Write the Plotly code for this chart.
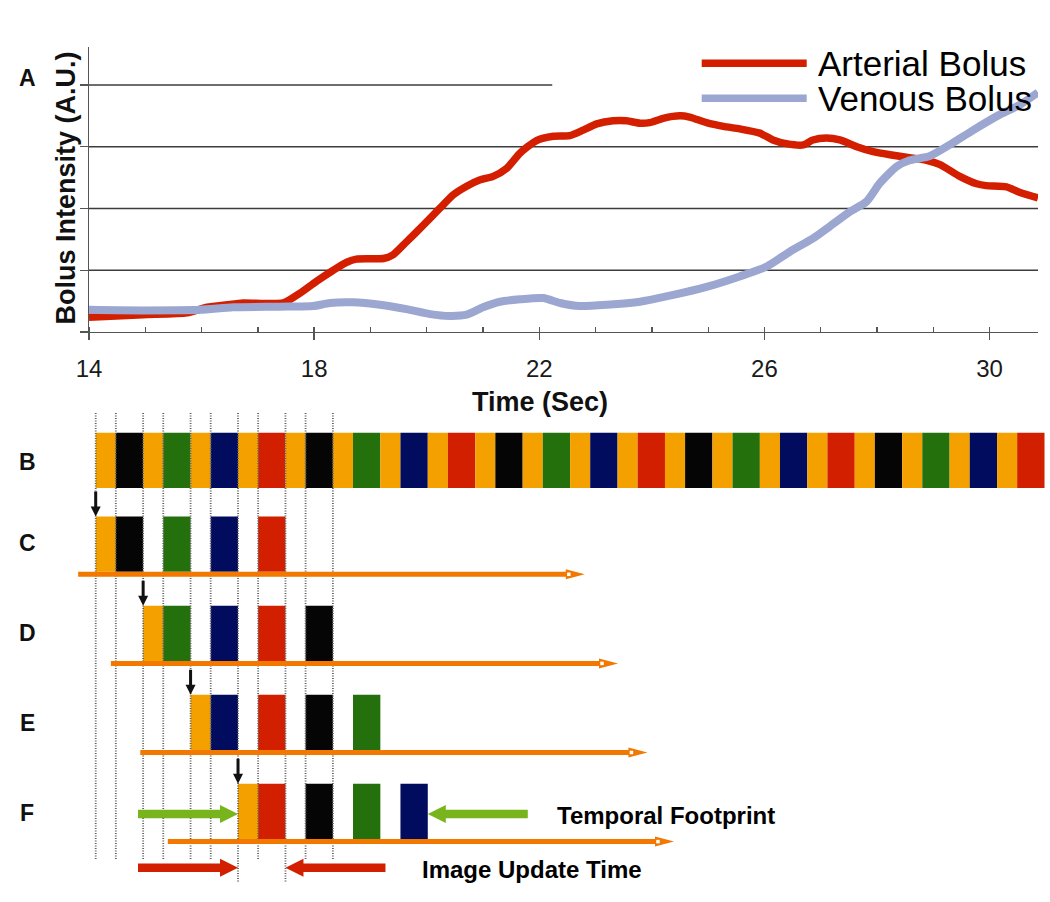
import plotly.graph_objects as go

# ------------------------------------------------------------------
# DATA
# ------------------------------------------------------------------
# Panel A : bolus curves (time in s, intensity in A.U.)
art_t = [14.00, 14.96, 15.74, 16.10, 16.45, 16.74, 17.45, 17.75, 18.04, 18.34,
         18.58, 18.75, 19.23, 19.40, 19.64, 19.94, 20.23, 20.47, 20.71, 20.94,
         21.18, 21.42, 21.66, 21.95, 22.25, 22.54, 22.78, 23.02, 23.31, 23.55,
         23.79, 23.96, 24.20, 24.50, 24.67, 24.97, 25.27, 25.56, 25.92, 26.15,
         26.39, 26.69, 26.86, 27.10, 27.34, 27.64, 27.93, 28.23, 28.52, 28.88,
         29.12, 29.47, 29.77, 29.94, 30.30, 30.54, 30.86]
art_v = [0.24, 0.28, 0.31, 0.40, 0.44, 0.47, 0.47, 0.63, 0.82, 1.00,
         1.13, 1.18, 1.19, 1.25, 1.46, 1.73, 2.00, 2.22, 2.36, 2.46,
         2.52, 2.65, 2.90, 3.10, 3.17, 3.18, 3.27, 3.37, 3.42, 3.42,
         3.38, 3.39, 3.46, 3.50, 3.48, 3.39, 3.33, 3.29, 3.22, 3.11,
         3.05, 3.03, 3.11, 3.14, 3.11, 3.00, 2.92, 2.87, 2.83, 2.78,
         2.71, 2.52, 2.40, 2.37, 2.35, 2.26, 2.17]
ven_t = [14.00, 14.96, 15.97, 16.56, 17.39, 17.98, 18.28, 18.69, 19.17, 19.64,
         20.06, 20.41, 20.71, 21.00, 21.30, 21.66, 22.07, 22.37, 22.72, 23.20,
         23.79, 24.38, 24.97, 25.56, 26.04, 26.45, 26.87, 27.16, 27.52, 27.81,
         28.05, 28.35, 28.58, 28.94, 29.29, 29.71, 30.18, 30.54, 30.86]
ven_v = [0.36, 0.35, 0.36, 0.40, 0.41, 0.42, 0.47, 0.48, 0.44, 0.37,
         0.29, 0.26, 0.28, 0.40, 0.49, 0.53, 0.55, 0.47, 0.42, 0.44,
         0.49, 0.60, 0.73, 0.90, 1.06, 1.30, 1.52, 1.71, 1.95, 2.11,
         2.41, 2.68, 2.78, 2.85, 3.03, 3.27, 3.52, 3.68, 3.88]
x_tick_vals = [14, 18, 22, 26, 30]
y_tick_vals = [0, 1, 2, 3, 4]
series_names = ["Arterial Bolus", "Venous Bolus"]

# Panels B-F : acquisition scheme (time in frame units)
frame_cycle = ["Black", "Green", "Blue", "Red"]     # k-space segments after each orange centre
n_cycles = 5
orange_fraction = 0.424                               # share of a frame taken by the orange centre
rows = ["C", "D", "E", "F"]
row_start_frame = [0, 1, 2, 3]
frames_per_image = 4
timeline_start = [-0.37, 0.32, 0.94, 1.52]
timeline_end = [10.31, 11.01, 11.63, 12.19]
footprint = [3, 7]
update_window = [3, 4]
n_marked_frames = 5

# ------------------------------------------------------------------
# STYLE / GEOMETRY
# ------------------------------------------------------------------
W, H = 1050, 902
FONT = "Liberation Sans, Arial, sans-serif"
COL = {"Orange": "#f4a100", "Black": "#050505", "Green": "#23700c",
       "Blue": "#020c5e", "Red": "#d21f00"}
RED_LINE = "#d41e00"
BLUE_LINE = "#9ba6d1"
TIME_ORANGE = "#f27800"
GREEN_ARROW = "#78b51c"
AXIS_COL = "#555555"

PX_FRAME = 47.44    # px per frame (bottom panels)
X0 = 95.7           # px of frame 0
PX_ROW = 89.1       # px per row
YC = 544.2          # px centre of row C (row value 1)


def fx(px):
    return (px - X0) / PX_FRAME


def ry(py):
    return 1 + (py - YC) / PX_ROW


def P(px, py):
    return px / W, 1 - py / H


row_pos = {"B": ry(460.4)}
for i, r in enumerate(rows):
    row_pos[r] = i + 1
bar_h = 55.3 / PX_ROW


def h_arrow(x_tail, x_tip, y, shaft_px, head_len_px, head_h_px):
    d = 1 if x_tip > x_tail else -1
    hl = head_len_px / PX_FRAME
    s = shaft_px / 2 / PX_ROW
    h = head_h_px / 2 / PX_ROW
    xb = x_tip - d * hl
    xs = [x_tail, xb, xb, x_tip, xb, xb, x_tail, x_tail, None]
    ys = [y - s, y - s, y - h, y, y + h, y + s, y + s, y - s, None]
    return xs, ys


def v_arrow(x, y_tail, y_tip, shaft_px, head_len_px, head_w_px):
    hl = head_len_px / PX_ROW
    s = shaft_px / 2 / PX_FRAME
    h = head_w_px / 2 / PX_FRAME
    yb = y_tip - hl
    xs = [x - s, x - s, x - h, x, x + h, x + s, x + s, x - s, None]
    ys = [y_tail, yb, yb, y_tip, yb, yb, y_tail, y_tail, None]
    return xs, ys


fig = go.Figure()

# ------------------------------------------------------------------
# Panel A
# ------------------------------------------------------------------
fig.add_trace(go.Scatter(x=art_t, y=art_v, mode="lines", name=series_names[0],
                         line=dict(color=RED_LINE, width=7.5, shape="spline", smoothing=0.6),
                         xaxis="x", yaxis="y", hoverinfo="skip"))
fig.add_trace(go.Scatter(x=ven_t, y=ven_v, mode="lines", name=series_names[1],
                         line=dict(color=BLUE_LINE, width=8, shape="spline", smoothing=0.6),
                         xaxis="x", yaxis="y", hoverinfo="skip"))

shapes = []
for v in y_tick_vals[1:]:
    x_end = 22.23 if v == y_tick_vals[-1] else 30.86
    shapes.append(dict(type="line", xref="x", yref="y", x0=14, x1=x_end, y0=v, y1=v,
                       line=dict(color="#3c3c3c", width=1.3), layer="below"))

# ------------------------------------------------------------------
# Panels B-F bars
# ------------------------------------------------------------------
n_frames = n_cycles * len(frame_cycle)
base, length, colors, ys = [], [], [], []
for k in range(n_frames):
    base += [k, k + orange_fraction]
    length += [orange_fraction, 1 - orange_fraction]
    colors += [COL["Orange"], COL[frame_cycle[k % len(frame_cycle)]]]
    ys += [row_pos["B"], row_pos["B"]]
for r, s in zip(rows, row_start_frame):
    base.append(s)
    length.append(orange_fraction)
    colors.append(COL["Orange"])
    ys.append(row_pos[r])
    for k in range(s, s + frames_per_image):
        base.append(k + orange_fraction)
        length.append(1 - orange_fraction)
        colors.append(COL[frame_cycle[k % len(frame_cycle)]])
        ys.append(row_pos[r])

fig.add_trace(go.Bar(x=length, base=base, y=ys, orientation="h", width=bar_h,
                     marker=dict(color=colors, line=dict(width=0)),
                     xaxis="x2", yaxis="y2", hoverinfo="skip", showlegend=False))

# dotted frame boundaries
bounds = []
for k in range(n_marked_frames):
    bounds += [k, k + orange_fraction]
bounds.append(n_marked_frames)
dxs, dys = [], []
for b in bounds:
    bottom = ry(882) if b in update_window else ry(860)
    dxs += [b, b, None]
    dys += [ry(413), bottom, None]
fig.add_trace(go.Scatter(x=dxs, y=dys, mode="lines",
                         line=dict(color="#606060", width=1.8, dash="1px,1.5px"),
                         xaxis="x2", yaxis="y2", hoverinfo="skip", showlegend=False))

# orange time lines
oxs, oys, wx, wy = [], [], [], []
for r, t0, t1 in zip(rows, timeline_start, timeline_end):
    y = row_pos[r] + 30.1 / PX_ROW
    a, b = h_arrow(t0, t1, y, 5, 19, 10)
    oxs += a
    oys += b
    wx.append(t1 - 16 / PX_FRAME)
    wy.append(y)
fig.add_trace(go.Scatter(x=oxs, y=oys, mode="lines", fill="toself", fillcolor=TIME_ORANGE,
                         line=dict(width=0, color=TIME_ORANGE),
                         xaxis="x2", yaxis="y2", hoverinfo="skip", showlegend=False))
fig.add_trace(go.Scatter(x=wx, y=wy, mode="markers",
                         marker=dict(symbol="square", size=3.5, color="white", line=dict(width=0)),
                         xaxis="x2", yaxis="y2", hoverinfo="skip", showlegend=False))

# black start arrows
bxs, bys = [], []
for r, s in zip(rows, row_start_frame):
    tip = row_pos[r] - bar_h / 2
    a, b = v_arrow(s, tip - 25 / PX_ROW, tip, 3, 10, 10)
    bxs += a
    bys += b
fig.add_trace(go.Scatter(x=bxs, y=bys, mode="lines", fill="toself", fillcolor="#111111",
                         line=dict(width=0, color="#111111"),
                         xaxis="x2", yaxis="y2", hoverinfo="skip", showlegend=False))

# green (temporal footprint) and red (image update) arrows
arrow_len = 100 / PX_FRAME
gx, gy, rx, rys = [], [], [], []
yg = ry(814)
for tail, tip in [(footprint[0] - arrow_len, footprint[0]), (footprint[1] + arrow_len, footprint[1])]:
    a, b = h_arrow(tail, tip, yg, 8.5, 18, 18)
    gx += a
    gy += b
yr = ry(867.7)
for tail, tip in [(update_window[0] - arrow_len, update_window[0]),
                  (update_window[1] + arrow_len, update_window[1])]:
    a, b = h_arrow(tail, tip, yr, 8.5, 18, 18)
    rx += a
    rys += b
fig.add_trace(go.Scatter(x=gx, y=gy, mode="lines", fill="toself", fillcolor=GREEN_ARROW,
                         line=dict(width=0, color=GREEN_ARROW),
                         xaxis="x2", yaxis="y2", hoverinfo="skip", showlegend=False))
fig.add_trace(go.Scatter(x=rx, y=rys, mode="lines", fill="toself", fillcolor=COL["Red"],
                         line=dict(width=0, color=COL["Red"]),
                         xaxis="x2", yaxis="y2", hoverinfo="skip", showlegend=False))

# ------------------------------------------------------------------
# Annotations
# ------------------------------------------------------------------
ann = []


def text_px(px, py, text, size, bold=True, xanchor="center", angle=0, color="#111111"):
    x, y = P(px, py)
    ann.append(dict(x=x, y=y, xref="paper", yref="paper", text=text, showarrow=False,
                    xanchor=xanchor, yanchor="middle", textangle=angle,
                    font=dict(family=FONT, size=size, color=color,
                              weight="bold" if bold else "normal")))


text_px(27, 78, "A", 23)
for lab, py in zip(["B", "C", "D", "E", "F"], [461.7, 543, 633, 723, 813]):
    text_px(27, py, lab, 23)
text_px(540, 402, "Time (Sec)", 27)
text_px(65, 188.5, "Bolus Intensity (A.U.)", 27, angle=-90)

# legend (drawn manually)
legend_rows = [(63.3, RED_LINE), (98.3, BLUE_LINE)]
for name, (py, col) in zip(series_names, legend_rows):
    x0, y0 = P(701.7, py)
    x1, _ = P(806.7, py)
    shapes.append(dict(type="line", xref="paper", yref="paper", x0=x0, x1=x1, y0=y0, y1=y0,
                       line=dict(color=col, width=7.5)))
    text_px(816, py, name, 35, bold=False, xanchor="left", color="#000000")

# footprint / update labels
ann.append(dict(x=footprint[1] + arrow_len + 27 / PX_FRAME, y=ry(815), xref="x2", yref="y2",
                text="Temporal Footprint", showarrow=False, xanchor="left", yanchor="middle",
                font=dict(family=FONT, size=24, color="#000000", weight="bold")))
ann.append(dict(x=update_window[1] + arrow_len + 35 / PX_FRAME, y=ry(869.3), xref="x2", yref="y2",
                text="Image Update Time", showarrow=False, xanchor="left", yanchor="middle",
                font=dict(family=FONT, size=24, color="#000000", weight="bold")))

# ------------------------------------------------------------------
# Layout
# ------------------------------------------------------------------
fig.update_layout(
    width=W, height=H, margin=dict(l=0, r=0, t=0, b=0, pad=0, autoexpand=False),
    paper_bgcolor="white", plot_bgcolor="rgba(0,0,0,0)",
    showlegend=False, barmode="overlay",
    font=dict(family=FONT),
    shapes=shapes, annotations=ann,
    xaxis=dict(domain=[89 / W, 1038 / W], range=[14, 30.86], anchor="y", automargin=False,
               tickvals=x_tick_vals, ticks="outside", ticklen=7, tickwidth=1.3,
               tickcolor=AXIS_COL, showline=True, linecolor=AXIS_COL, linewidth=1.3,
               showgrid=False, zeroline=False, ticklabelstandoff=8,
               tickfont=dict(family=FONT, size=24, color="#1a1a1a"),
               minor=dict(ticks="inside", ticklen=5, dtick=1, tickcolor=AXIS_COL,
                          tickwidth=1.3, showgrid=False),
               fixedrange=True),
    yaxis=dict(domain=[1 - 332 / H, 1 - 46.7 / H], range=[0, 4.62], anchor="x", automargin=False,
               tickvals=y_tick_vals, ticks="outside", ticklen=8, tickwidth=1.3,
               tickcolor=AXIS_COL, showticklabels=False, showline=True,
               linecolor=AXIS_COL, linewidth=1.3, showgrid=False, zeroline=False,
               fixedrange=True),
    xaxis2=dict(domain=[0, 1], range=[fx(0), fx(W)], anchor="y2", visible=False,
                automargin=False, fixedrange=True),
    yaxis2=dict(domain=[0, 1], range=[ry(H), ry(0)], anchor="x2", visible=False,
                automargin=False, fixedrange=True),
)

fig.write_html("out.html", config={"displayModeBar": False, "staticPlot": True},
               post_script="document.body.style.margin='0px';")
